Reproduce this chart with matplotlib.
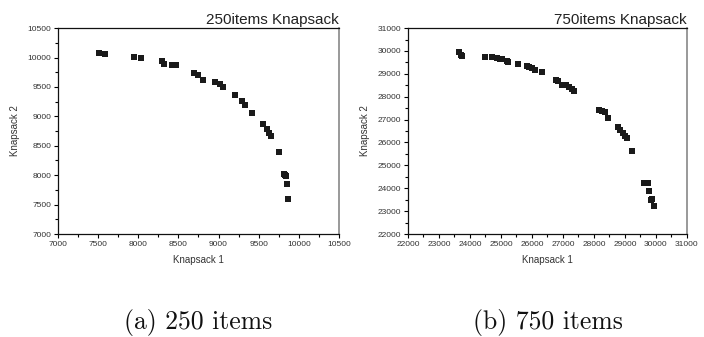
import matplotlib
matplotlib.use("Agg")
import matplotlib.pyplot as plt
from matplotlib.ticker import MultipleLocator

# 250 items front (knapsack 1, knapsack 2)
k1_250 = [7515, 7585, 7950, 8037, 8291, 8320, 8415, 8465, 8694, 8747,
          8810, 8955, 9017, 9059, 9204, 9288, 9329, 9412, 9557, 9607,
          9632, 9657, 9752, 9814, 9830, 9839, 9848, 9860]
k2_250 = [10070, 10064, 10012, 9990, 9934, 9883, 9866, 9866, 9745, 9711,
          9617, 9588, 9543, 9503, 9360, 9258, 9192, 9050, 8862, 8777,
          8720, 8664, 8393, 8019, 8005, 7985, 7844, 7595]

# 750 items front
k1_750 = [23655, 23700, 23740, 24480, 24700, 24860, 24970, 25020, 25180, 25230,
          25560, 25830, 25900, 25990, 26100, 26310, 26790, 26840, 26980, 27100,
          27180, 27280, 27340, 28150, 28250, 28360, 28460, 28780, 28850, 28940,
          29000, 29070, 29230, 29620, 29730, 29780, 29840, 29880, 29930]
k2_750 = [29950, 29840, 29790, 29750, 29730, 29710, 29660, 29640, 29560, 29540,
          29410, 29340, 29310, 29250, 29160, 29090, 28740, 28700, 28520, 28500,
          28410, 28330, 28260, 27420, 27390, 27320, 27080, 26660, 26560, 26400,
          26280, 26190, 25630, 24250, 24240, 23900, 23500, 23550, 23220]

titles = ["250items Knapsack", "750items Knapsack"]
captions = ["(a) 250 items", "(b) 750 items"]

plt.rcParams["font.family"] = ["Liberation Sans", "DejaVu Sans"]

fig = plt.figure(figsize=(7.04, 3.37), dpi=100)

panels = [
    (k1_250, k2_250, [0.0824, 0.3056, 0.399, 0.611], (7000, 10500), 500, (7000, 10500), 500),
    (k1_750, k2_750, [0.5795, 0.3056, 0.3963, 0.611], (22000, 31000), 1000, (22000, 31000), 1000),
]

for i, (xs, ys, rect, xlim, xstep, ylim, ystep) in enumerate(panels):
    ax = fig.add_axes(rect)
    ax.plot(xs, ys, "s", color="#1a1a1a", markersize=3.9, markeredgewidth=0)
    ax.set_xlim(xlim)
    ax.set_ylim(ylim)
    ax.xaxis.set_major_locator(MultipleLocator(xstep))
    ax.xaxis.set_minor_locator(MultipleLocator(xstep / 2))
    ax.yaxis.set_major_locator(MultipleLocator(ystep))
    ax.yaxis.set_minor_locator(MultipleLocator(ystep / 2))
    ax.tick_params(which="major", direction="out", length=3, width=0.8,
                   labelsize=6, labelcolor="#333333", pad=2)
    ax.tick_params(which="minor", direction="out", length=2, width=0.8)
    ax.tick_params(top=False, right=False, which="both")
    for s in ["left", "bottom", "top"]:
        ax.spines[s].set_linewidth(0.9)
        ax.spines[s].set_color("#111111")
    ax.spines["right"].set_color("#888888")
    ax.spines["right"].set_linewidth(1.2)
    ax.set_xlabel("Knapsack 1", fontsize=7, color="#333333", labelpad=5)
    ax.set_ylabel("Knapsack 2", fontsize=7, color="#333333", labelpad=5)
    ax.set_title(titles[i], loc="right", fontsize=11, color="#222222", pad=3)
    cx = rect[0] + rect[2] / 2
    fig.text(cx, 0.025, captions[i], ha="center", va="baseline",
             fontsize=18.5, family="cmr10", color="#111111")

fig.savefig("out.png", dpi=100)
